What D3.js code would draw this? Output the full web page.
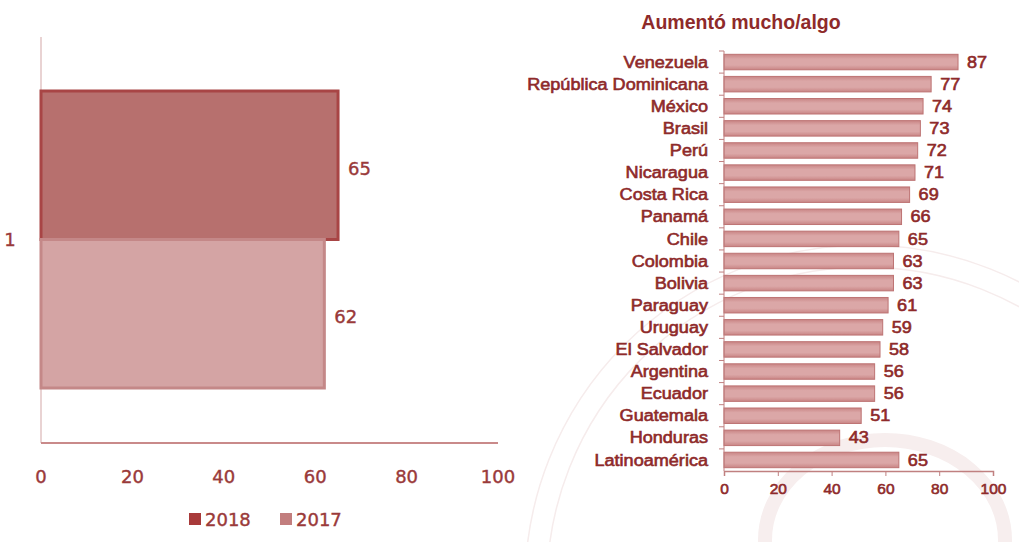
<!DOCTYPE html>
<html lang="es">
<head>
  <meta charset="UTF-8">
  <title>Aumentó mucho/algo</title>
  <style>
    body { margin: 0; background: #fff; overflow: hidden; }
    svg { display: block; }
    .left text { font-family: 'DejaVu Sans', sans-serif; fill: #9a3a3a; }
    .right text { font-family: 'Liberation Sans', Arial, sans-serif; fill: #8e2a2a; }
  </style>
</head>
<body>
  <svg id="chart" width="1019" height="542"></svg>

  <script src="https://d3js.org/d3.v7.min.js"></script>
  <script>
    // Panel izquierdo: promedio regional
    const years = ['2018', '2017'];
    const regional = [65, 62];
    const leftCategory = '1';

    // Panel derecho: por país
    const countries = ['Venezuela', 'República Dominicana', 'México', 'Brasil', 'Perú', 'Nicaragua',
      'Costa Rica', 'Panamá', 'Chile', 'Colombia', 'Bolivia', 'Paraguay', 'Uruguay', 'El Salvador',
      'Argentina', 'Ecuador', 'Guatemala', 'Honduras', 'Latinoamérica'];
    const values = [87, 77, 74, 73, 72, 71, 69, 66, 65, 63, 63, 61, 59, 58, 56, 56, 51, 43, 65];
    const ticks = [0, 20, 40, 60, 80, 100];

    const svg = d3.select('#chart');

    // sello de fondo (marca de agua muy tenue)
    const seal = svg.append('g').attr('fill', 'none').attr('stroke', '#f6ecec');
    seal.append('circle').attr('cx', 865).attr('cy', 585).attr('r', 340).attr('stroke-width', 1.5);
    seal.append('circle').attr('cx', 865).attr('cy', 585).attr('r', 318).attr('stroke-width', 1.5);
    seal.append('ellipse').attr('cx', 885).attr('cy', 540).attr('rx', 120).attr('ry', 100)
      .attr('stroke', '#f7eeee').attr('stroke-width', 14);

    // gradiente para el efecto de relieve
    const defs = svg.append('defs');
    function vGrad(id, edge, mid) {
      const g = defs.append('linearGradient').attr('id', id)
        .attr('x1', 0).attr('y1', 0).attr('x2', 0).attr('y2', 1);
      g.append('stop').attr('offset', '0%').attr('stop-color', edge);
      g.append('stop').attr('offset', '30%').attr('stop-color', mid);
      g.append('stop').attr('offset', '70%').attr('stop-color', mid);
      g.append('stop').attr('offset', '100%').attr('stop-color', edge);
    }
    vGrad('barR', '#c98585', '#dba7a7');

    // ---------- izquierda ----------
    const left = svg.append('g').attr('class', 'left');
    const xL = d3.scaleLinear().domain([0, 100]).range([41, 498]);
    const yL = d3.scaleBand().domain(years).range([91, 388]).padding(0);
    const fillL = { '2018': '#b7706e', '2017': '#d4a4a4' };
    const strokeL = { '2018': '#a84545', '2017': '#c48888' };

    left.append('line')
      .attr('x1', xL(0)).attr('x2', xL(0)).attr('y1', 37).attr('y2', 443)
      .attr('stroke', '#e2c4c4').attr('stroke-width', 1.5);
    left.append('line')
      .attr('x1', xL(0)).attr('x2', xL(100)).attr('y1', 443).attr('y2', 443)
      .attr('stroke', '#c98a8a').attr('stroke-width', 2);

    left.selectAll('rect.bar').data(years).join('rect')
      .attr('class', 'bar')
      .attr('x', xL(0))
      .attr('y', d => yL(d))
      .attr('width', (d, i) => xL(regional[i]) - xL(0))
      .attr('height', yL.bandwidth())
      .attr('fill', d => fillL[d])
      .attr('stroke', d => strokeL[d])
      .attr('stroke-width', 3);

    left.selectAll('text.val').data(years).join('text')
      .attr('class', 'val')
      .attr('x', (d, i) => xL(regional[i]) + 10)
      .attr('y', d => yL(d) + yL.bandwidth() / 2 + 3)
      .attr('dy', '0.35em')
      .attr('font-size', 18).attr('stroke', '#9a3a3a').attr('stroke-width', 0.4)
      .text((d, i) => regional[i]);

    left.append('text')
      .attr('x', 10).attr('y', yL.range()[0] + (yL.range()[1] - yL.range()[0]) / 2)
      .attr('dy', '0.35em').attr('font-size', 18).attr('text-anchor', 'middle')
      .attr('stroke', '#9a3a3a').attr('stroke-width', 0.4)
      .text(leftCategory);

    left.selectAll('text.tick').data(ticks).join('text')
      .attr('class', 'tick')
      .attr('x', d => xL(d)).attr('y', 477)
      .attr('dy', '0.35em').attr('text-anchor', 'middle').attr('font-size', 18)
      .attr('stroke', '#9a3a3a').attr('stroke-width', 0.4)
      .text(d => d);

    const legend = left.append('g');
    years.forEach((yr, i) => {
      const lx = 189 + i * 91;
      legend.append('rect').attr('x', lx).attr('y', 513).attr('width', 12).attr('height', 12)
        .attr('fill', i === 0 ? '#a83a3a' : '#c27e7e');
      legend.append('text').attr('x', lx + 16).attr('y', 520).attr('dy', '0.35em')
        .attr('font-size', 18).attr('stroke', '#9a3a3a').attr('stroke-width', 0.4).text(yr);
    });

    // ---------- derecha ----------
    const right = svg.append('g').attr('class', 'right');
    const xR = d3.scaleLinear().domain([0, 100]).range([724, 993]);
    const yR = d3.scaleBand().domain(countries).range([51, 471]).paddingInner(0.3).paddingOuter(0.15);
    const stretch = 1.13; // el original está algo estirado en horizontal

    right.append('text')
      .attr('x', 741).attr('y', 22).attr('dy', '0.35em').attr('text-anchor', 'middle')
      .attr('font-size', 19.5).attr('font-weight', 'bold').attr('fill', '#9b2b2b')
      .text('Aumentó mucho/algo');

    right.selectAll('rect.bar').data(countries).join('rect')
      .attr('class', 'bar')
      .attr('x', xR(0))
      .attr('y', d => yR(d))
      .attr('width', (d, i) => xR(values[i]) - xR(0))
      .attr('height', yR.bandwidth())
      .attr('fill', 'url(#barR)')
      .attr('stroke', '#bd7373')
      .attr('stroke-width', 1);

    right.selectAll('text.val').data(countries).join('text')
      .attr('class', 'val')
      .attr('transform', (d, i) => `translate(${xR(values[i]) + 9},${yR(d) + yR.bandwidth() / 2}) scale(${stretch},1)`)
      .attr('dy', '0.35em')
      .attr('font-size', 16).attr('stroke', '#8e2a2a').attr('stroke-width', 0.6)
      .text((d, i) => values[i]);

    // eje Y
    const yAxis = right.append('g')
      .attr('transform', `translate(${xR(0)},0)`);
    yAxis.append('line').attr('x1', 0).attr('x2', 0).attr('y1', 51).attr('y2', 471)
      .attr('stroke', '#c08080').attr('stroke-width', 1);
    yAxis.selectAll('line.tk').data(countries).join('line')
      .attr('class', 'tk')
      .attr('x1', -5).attr('x2', 0)
      .attr('y1', d => yR(d) - yR.step() * yR.paddingInner() / 2)
      .attr('y2', d => yR(d) - yR.step() * yR.paddingInner() / 2)
      .attr('stroke', '#c08080');
    yAxis.selectAll('text.lab').data(countries).join('text')
      .attr('class', 'lab')
      .attr('transform', d => `translate(-16,${yR(d) + yR.bandwidth() / 2}) scale(${stretch},1)`)
      .attr('dy', '0.35em').attr('text-anchor', 'end')
      .attr('font-size', 16).attr('stroke', '#8e2a2a').attr('stroke-width', 0.6)
      .text(d => d);

    // eje X
    const xAxis = right.append('g')
      .attr('transform', 'translate(0,471)')
      .call(d3.axisBottom(xR).tickValues(ticks).tickSize(5).tickPadding(7));
    xAxis.select('.domain').attr('stroke', '#c08080').attr('stroke-width', 1.5);
    xAxis.selectAll('.tick line').attr('stroke', '#c08080');
    xAxis.selectAll('.tick text')
      .attr('font-family', "'Liberation Sans', Arial, sans-serif")
      .attr('font-size', 15.5).attr('fill', '#8e2a2a')
      .attr('stroke', '#8e2a2a').attr('stroke-width', 0.6);
  </script>
</body>
</html>
